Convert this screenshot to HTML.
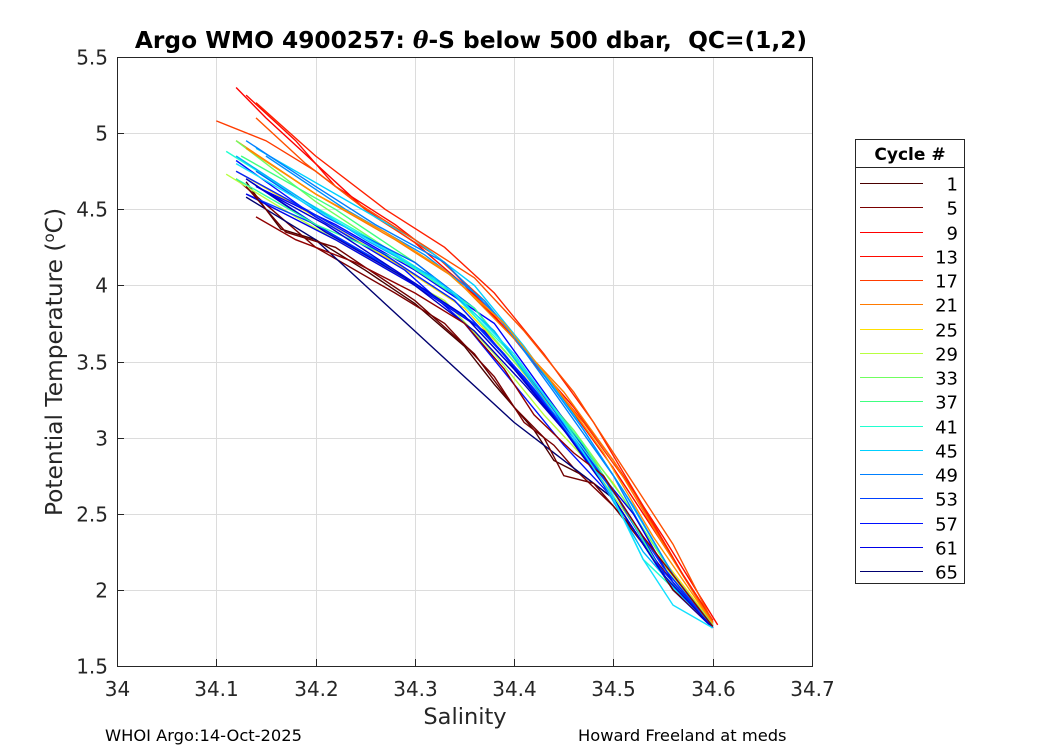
<!DOCTYPE html>
<html><head><meta charset="utf-8"><style>
body{margin:0;background:#fff;}
svg{display:block;font-family:"DejaVu Sans","Liberation Sans",sans-serif;}
</style></head><body>
<svg id="chart" width="1050" height="750" viewBox="0 0 1050 750">
<rect x="0" y="0" width="1050" height="750" fill="#fff"/>
<rect x="117" y="57" width="695" height="609" fill="#fff"/>
<g id="grid"></g>
<g id="series"></g>
<rect x="117.5" y="57.5" width="695" height="609" fill="none" stroke="#262626" stroke-width="1"/>
<g id="ticks"></g>
<text x="471" y="48" text-anchor="middle" font-size="23.3" font-weight="bold" fill="#000">Argo WMO 4900257: <tspan font-style="italic" font-family="DejaVu Serif, serif">θ</tspan>-S below 500 dbar,&#160; QC=(1,2)</text>
<text x="465" y="724" text-anchor="middle" font-size="22.5" fill="#262626">Salinity</text>
<text transform="translate(62,362) rotate(-90)" text-anchor="middle" font-size="23.3" fill="#262626">Potential Temperature (<tspan dy="-8" font-size="15">o</tspan><tspan dy="8">C)</tspan></text>
<text x="105" y="741" font-size="16.3" fill="#000">WHOI Argo:14-Oct-2025</text>
<text x="578" y="741" font-size="16.3" fill="#000">Howard Freeland at meds</text>
<g id="legend">
<rect x="855.5" y="139.5" width="109" height="444" fill="#fff" stroke="#262626" stroke-width="1"/>
<line x1="855" y1="167.5" x2="964" y2="167.5" stroke="#262626" stroke-width="1"/>
<text x="910" y="160" text-anchor="middle" font-size="17" font-weight="bold" fill="#000">Cycle #</text>
</g>
</svg>
<script>
const xTicks=[34,34.1,34.2,34.3,34.4,34.5,34.6,34.7];
const yTicks=[1.5,2,2.5,3,3.5,4,4.5,5,5.5];
const legendCycles=[1,5,9,13,17,21,25,29,33,37,41,45,49,53,57,61,65];
const legendColors=["#4a0000","#7a0000","#ff0000","#ff0a00","#ff3c00","#ff7a00","#ffe000","#b8ff40","#70ff60","#40ff80","#20ffd0","#00d0ff","#0080ff","#0040ff","#0010ff","#0000e8","#000070"];
const profileColors=["#4a0000","#7a0000","#ff0000","#ff0a00","#ff3c00","#ff7a00","#ffe000","#b8ff40","#70ff60","#40ff80","#20ffd0","#00d0ff","#0080ff","#0040ff","#0010ff","#0000e8","#000070","#0090ff","#0060ff","#0030ff","#0000ff","#0000c0","#30ffa0","#ff2000","#700000","#ff5000","#ff9000","#00b0ff","#0020ff","#0000d0","#900000","#10e0ff"];
const profileSal=[
[34.13,34.15,34.165,34.2,34.25,34.3,34.35,34.38,34.42,34.44,34.47,34.5,34.55,34.6],
[34.12,34.2,34.28,34.33,34.38,34.41,34.44,34.46,34.5,34.56,34.6],
[34.12,34.15,34.2,34.25,34.3,34.35,34.4,34.45,34.5,34.55,34.6],
[34.13,34.18,34.22,34.28,34.33,34.38,34.42,34.46,34.5,34.55,34.605],
[34.1,34.15,34.2,34.26,34.32,34.37,34.42,34.47,34.52,34.56,34.6],
[34.12,34.2,34.28,34.34,34.4,34.45,34.5,34.55,34.6],
[34.12,34.2,34.28,34.35,34.4,34.45,34.5,34.55,34.6],
[34.11,34.18,34.26,34.33,34.38,34.43,34.48,34.54,34.6],
[34.12,34.2,34.27,34.34,34.4,34.46,34.51,34.56,34.6],
[34.125,34.22,34.3,34.36,34.41,34.46,34.5,34.55,34.6],
[34.11,34.19,34.27,34.33,34.39,34.44,34.49,34.53,34.57,34.6],
[34.14,34.22,34.3,34.36,34.41,34.46,34.51,34.56,34.6],
[34.13,34.2,34.26,34.33,34.39,34.44,34.5,34.55,34.6],
[34.13,34.2,34.28,34.35,34.4,34.45,34.5,34.55,34.6],
[34.12,34.2,34.29,34.35,34.4,34.45,34.5,34.55,34.6],
[34.13,34.22,34.3,34.37,34.42,34.47,34.52,34.56,34.6],
[34.13,34.2,34.4,34.43,34.5,34.55,34.6],
[34.15,34.23,34.31,34.37,34.42,34.47,34.52,34.56,34.6],
[34.14,34.21,34.3,34.36,34.41,34.46,34.51,34.55,34.6],
[34.13,34.2,34.29,34.36,34.41,34.46,34.5,34.55,34.6],
[34.14,34.22,34.3,34.38,34.43,34.48,34.52,34.56,34.6],
[34.13,34.21,34.29,34.36,34.41,34.47,34.51,34.56,34.6],
[34.12,34.2,34.29,34.36,34.41,34.47,34.51,34.55,34.6],
[34.14,34.2,34.27,34.33,34.38,34.43,34.48,34.53,34.57,34.6],
[34.13,34.17,34.22,34.3,34.36,34.4,34.43,34.45,34.48,34.52,34.56,34.6],
[34.14,34.19,34.24,34.3,34.36,34.41,34.46,34.51,34.56,34.6],
[34.13,34.2,34.27,34.33,34.39,34.44,34.49,34.54,34.6],
[34.12,34.19,34.25,34.32,34.38,34.43,34.48,34.53,34.57,34.6],
[34.12,34.19,34.27,34.34,34.39,34.44,34.49,34.54,34.6],
[34.14,34.21,34.28,34.35,34.4,34.45,34.5,34.55,34.6],
[34.14,34.18,34.24,34.3,34.35,34.39,34.42,34.46,34.49,34.53,34.6],
[34.12,34.2,34.28,34.34,34.4,34.45,34.5,34.53,34.56,34.6]];
const profileTemp=[
[4.68,4.5,4.37,4.3,4.1,3.88,3.6,3.35,3.05,2.85,2.75,2.6,2.1,1.76],
[4.7,4.25,3.95,3.75,3.4,3.1,2.95,2.8,2.55,2.05,1.76],
[5.3,5.1,4.8,4.5,4.28,4.0,3.65,3.25,2.8,2.3,1.8],
[5.25,4.95,4.65,4.4,4.15,3.8,3.5,3.2,2.85,2.35,1.77],
[5.08,4.95,4.75,4.45,4.2,3.9,3.5,3.1,2.65,2.2,1.78],
[4.95,4.6,4.3,4.05,3.65,3.3,2.85,2.3,1.79],
[4.75,4.45,4.15,3.85,3.5,3.1,2.7,2.2,1.78],
[4.73,4.45,4.15,3.9,3.55,3.15,2.8,2.25,1.77],
[4.95,4.55,4.25,3.95,3.5,3.05,2.6,2.1,1.77],
[4.85,4.5,4.15,3.85,3.45,3.0,2.6,2.1,1.76],
[4.88,4.55,4.25,4.0,3.6,3.2,2.75,2.2,1.95,1.76],
[4.9,4.6,4.3,4.0,3.6,3.15,2.65,2.1,1.76],
[4.95,4.65,4.4,4.15,3.75,3.3,2.75,2.15,1.76],
[4.6,4.4,4.1,3.8,3.45,3.05,2.65,2.1,1.75],
[4.82,4.45,4.1,3.75,3.35,2.95,2.6,2.1,1.75],
[4.6,4.3,4.0,3.7,3.3,2.9,2.5,2.05,1.75],
[4.58,4.3,3.1,2.95,2.6,2.1,1.75],
[4.85,4.5,4.2,3.9,3.5,3.05,2.55,2.1,1.76],
[4.75,4.45,4.15,3.85,3.45,3.0,2.55,2.1,1.75],
[4.7,4.4,4.05,3.75,3.4,3.0,2.65,2.15,1.75],
[4.65,4.4,4.1,3.75,3.3,2.85,2.45,2.0,1.75],
[4.7,4.35,4.05,3.7,3.35,2.9,2.5,2.0,1.75],
[4.7,4.4,4.15,3.85,3.45,2.95,2.55,2.1,1.76],
[5.2,4.85,4.5,4.25,3.95,3.55,3.1,2.55,2.1,1.8],
[4.65,4.35,4.25,3.9,3.55,3.2,3.0,2.75,2.7,2.4,2.0,1.76],
[5.1,4.8,4.55,4.3,4.05,3.7,3.3,2.8,2.3,1.79],
[4.9,4.6,4.35,4.1,3.75,3.35,2.9,2.35,1.78],
[4.85,4.55,4.3,4.05,3.7,3.25,2.8,2.25,1.95,1.76],
[4.75,4.5,4.2,3.9,3.55,3.15,2.7,2.2,1.75],
[4.65,4.4,4.1,3.8,3.45,3.05,2.6,2.1,1.75],
[4.45,4.3,4.15,3.95,3.75,3.45,3.15,2.9,2.75,2.35,1.76],
[4.8,4.5,4.2,3.95,3.55,3.1,2.6,2.2,1.9,1.75]];

const NS="http://www.w3.org/2000/svg";
const X0=117,X1=812,Y0=666,Y1=57;
function sx(s){return X0+(s-34)/(34.7-34)*(X1-X0);}
function sy(t){return Y0-(t-1.5)/(5.5-1.5)*(Y0-Y1);}
function mk(tag,attrs,parent){const e=document.createElementNS(NS,tag);for(const k in attrs)e.setAttribute(k,attrs[k]);parent.appendChild(e);return e;}
const grid=document.getElementById('grid'),ticks=document.getElementById('ticks'),series=document.getElementById('series'),legend=document.getElementById('legend');
xTicks.forEach(v=>{const x=Math.round(sx(v))+0.5;
 const g=mk('line',{x1:x,x2:x,y1:Y1,y2:Y0,stroke:'#dcdcdc','stroke-width':1},grid);
 
 
 mk('line',{x1:x,x2:x,y1:Y0,y2:Y0-7,stroke:'#262626'},ticks);
 const t=mk('text',{x:x,y:Y0+30,'text-anchor':'middle','font-size':20,fill:'#262626'},ticks);
 t.textContent=String(v);
 
 });
yTicks.forEach(v=>{const y=Math.round(sy(v))+0.5;
 const g=mk('line',{x1:X0,x2:X1,y1:y,y2:y,stroke:'#dcdcdc','stroke-width':1},grid);
 
 
 mk('line',{x1:X0,x2:X0+7,y1:y,y2:y,stroke:'#262626'},ticks);
 const t=mk('text',{x:X0-9,y:y+7,'text-anchor':'end','font-size':20,fill:'#262626'},ticks);
 t.textContent=String(v);
 
 });
profileSal.forEach((sal,i)=>{const pts=sal.map((s,j)=>sx(s).toFixed(1)+','+sy(profileTemp[i][j]).toFixed(1)).join(' ');
 const p=mk('polyline',{points:pts,fill:'none',stroke:profileColors[i],'stroke-width':1.4},series);
 
 });
legendCycles.forEach((c,i)=>{const y=Math.round(183+i*24.25)+0.5;
 const l=mk('line',{x1:860,x2:923,y1:y,y2:y,stroke:legendColors[i],'stroke-width':1},legend);
 
 
 const t=mk('text',{x:958,y:y+7,'text-anchor':'end','font-size':18,fill:'#000'},legend);
 t.textContent=String(c);
 
 });
</script>
</body></html>
